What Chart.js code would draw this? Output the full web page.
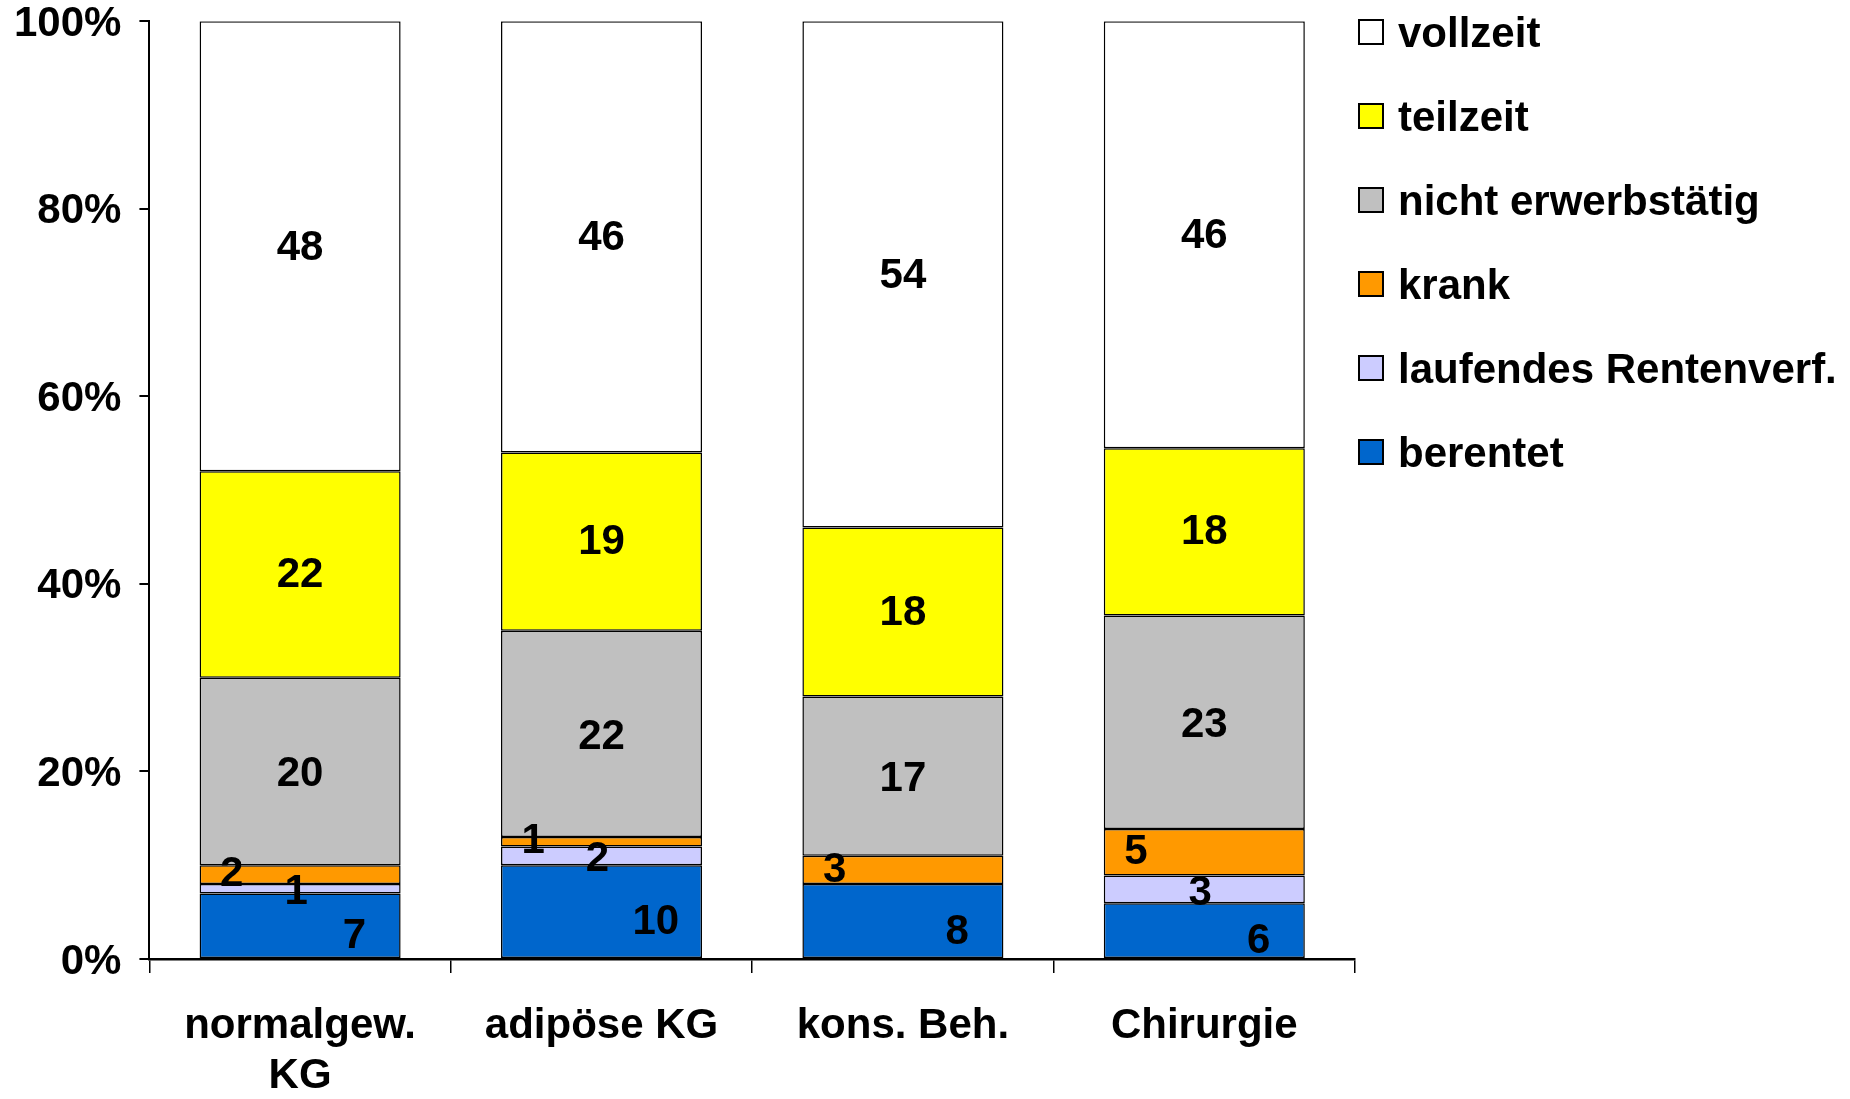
<!DOCTYPE html>
<html lang="de">
<head>
  <meta charset="UTF-8" />
  <title>Erwerbsstatus nach Gruppe</title>
  <script src="https://cdn.jsdelivr.net/npm/chart.js"></script>
  <style>
    html, body { margin: 0; padding: 0; background: #fff; }
    #wrap { width: 1850px; height: 1099px; }
  </style>
</head>
<body>
  <div id="wrap"><canvas id="chart" width="1850" height="1099"></canvas></div>

  <script>
    // Kategorien (x-Achse)
    const categories = [['normalgew.', 'KG'], 'adipöse KG', 'kons. Beh.', 'Chirurgie'];

    // Werte je Status (von unten nach oben gestapelt)
    const berentet       = [7, 10, 8, 6];
    const laufendes      = [1, 2, 0, 3];
    const krank          = [2, 1, 3, 5];
    const nichtErwerb    = [20, 22, 17, 23];
    const teilzeit       = [22, 19, 18, 18];
    const vollzeit       = [48, 46, 54, 46];

    const yTicks = [0, 20, 40, 60, 80, 100];

    const FONT = '"Liberation Sans", Arial, sans-serif';
    const FSIZE = 42;

    // 100%-Stapel: jede Saeule auf ihre Summe beziehen
    const series = [berentet, laufendes, krank, nichtErwerb, teilzeit, vollzeit];
    const totals = categories.map((_, i) => series.reduce((s, arr) => s + arr[i], 0));
    const pct = arr => arr.map((v, i) => v / totals[i] * 100);

    function ds(label, values, color, lx, ly) {
      return {
        label,
        data: pct(values),
        raw: values,
        backgroundColor: color,
        borderColor: '#000',
        borderWidth: 1.5,
        borderSkipped: false,
        categoryPercentage: 1,
        barPercentage: 0.667,
        labelDx: lx,
        labelDy: ly
      };
    }

    // Datenbeschriftungen wie im Original versetzt
    const valueLabels = {
      id: 'valueLabels',
      afterDatasetsDraw(chart) {
        const ctx = chart.ctx;
        ctx.save();
        ctx.font = '700 ' + FSIZE + 'px ' + FONT;
        ctx.fillStyle = '#000';
        ctx.textAlign = 'center';
        ctx.textBaseline = 'middle';
        chart.data.datasets.forEach((d, di) => {
          chart.getDatasetMeta(di).data.forEach((bar, i) => {
            const v = d.raw[i];
            if (!v) return;
            const cx = bar.x + d.labelDx * bar.width;
            const cy = (bar.y + bar.base) / 2 + d.labelDy;
            ctx.fillText(String(v), cx, cy);
          });
        });
        ctx.restore();
      }
    };

    // Legende rechts, oben beginnend, umgekehrte Reihenfolge
    const sideLegend = {
      id: 'sideLegend',
      afterDraw(chart, args, o) {
        const ctx = chart.ctx;
        const x = chart.chartArea.right + o.gap;
        ctx.save();
        ctx.font = '700 ' + FSIZE + 'px ' + FONT;
        ctx.textBaseline = 'middle';
        ctx.textAlign = 'left';
        chart.data.datasets.slice().reverse().forEach((d, i) => {
          const y = o.top + i * o.row;
          ctx.fillStyle = d.backgroundColor;
          ctx.fillRect(x, y - o.box / 2, o.box, o.box);
          ctx.lineWidth = 2;
          ctx.strokeStyle = '#000';
          ctx.strokeRect(x, y - o.box / 2, o.box, o.box);
          ctx.fillStyle = '#000';
          ctx.fillText(d.label, x + o.box + o.textGap, y + 3);
        });
        ctx.restore();
      }
    };

    new Chart(document.getElementById('chart').getContext('2d'), {
      type: 'bar',
      data: {
        labels: categories,
        datasets: [
          ds('berentet', berentet, '#0066CC', 0.27, 11),
          ds('laufendes Rentenverf.', laufendes, '#CCCCFF', -0.02, 4),
          ds('krank', krank, '#FF9900', -0.34, 0),
          ds('nicht erwerbstätig', nichtErwerb, '#C0C0C0', 0, 3),
          ds('teilzeit', teilzeit, '#FFFF00', 0, 1),
          ds('vollzeit', vollzeit, '#FFFFFF', 0, 2)
        ]
      },
      options: {
        responsive: false,
        animation: false,
        layout: { padding: { left: -4, right: 495, top: 0, bottom: -30 } },
        plugins: {
          legend: { display: false },
          tooltip: { enabled: false },
          sideLegend: { gap: 4, top: 32, row: 84, box: 24, textGap: 15 }
        },
        scales: {
          x: {
            stacked: true,
            offset: true,
            grid: { offset: true, drawOnChartArea: false, tickLength: 14, color: '#000', lineWidth: 1.5 },
            border: { display: true, color: '#000', width: 2.5 },
            ticks: {
              color: '#000',
              padding: 28,
              maxRotation: 0,
              autoSkip: false,
              font: { family: FONT, size: FSIZE, weight: 'bold', lineHeight: 1.19 }
            }
          },
          y: {
            stacked: true,
            min: 0,
            max: 100,
            afterBuildTicks: axis => { axis.ticks = yTicks.map(v => ({ value: v })); },
            grid: { drawOnChartArea: false, tickLength: 10, color: '#000', lineWidth: 2 },
            border: { display: true, color: '#000', width: 2 },
            ticks: {
              color: '#000',
              padding: 18,
              labelOffset: 3,
              callback: v => v + '%',
              font: { family: FONT, size: FSIZE, weight: 'bold', lineHeight: 0.15 }
            }
          }
        }
      },
      plugins: [valueLabels, sideLegend]
    });
  </script>
</body>
</html>
